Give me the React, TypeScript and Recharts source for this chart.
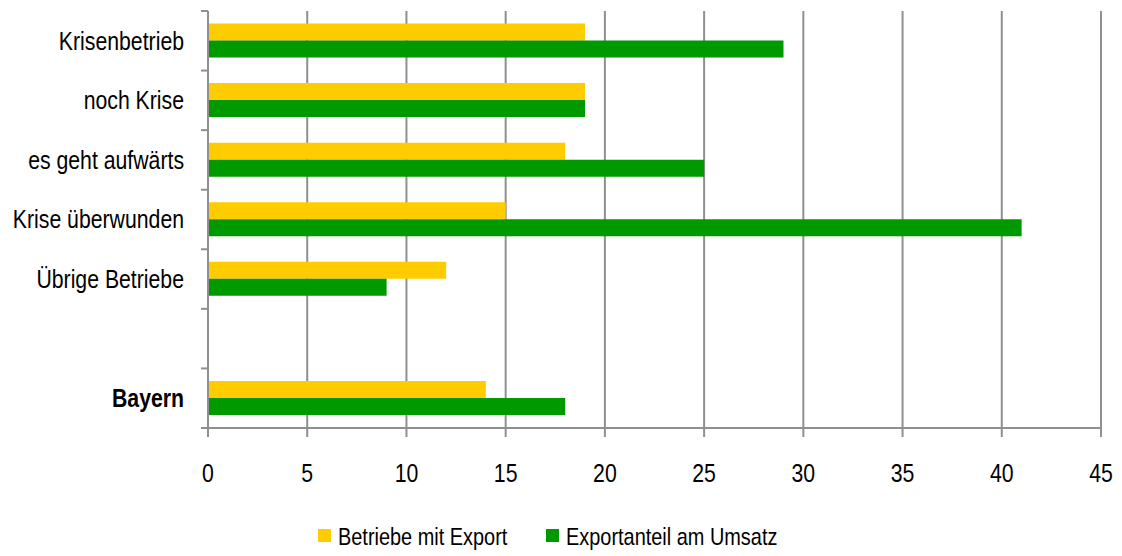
import React from "react";
import { BarChart, Bar, XAxis, YAxis, CartesianGrid, Legend } from "recharts";

const categories = [
  "Krisenbetrieb",
  "noch Krise",
  "es geht aufwärts",
  "Krise überwunden",
  "Übrige Betriebe",
  "",
  "Bayern"
];
const betriebeMitExport = [19, 19, 18, 15, 12, null, 14];
const exportanteilAmUmsatz = [29, 19, 25, 41, 9, null, 18];
const xTicks = [0, 5, 10, 15, 20, 25, 30, 35, 40, 45];

const data = categories.map((name, i) => ({
  name,
  export: betriebeMitExport[i],
  anteil: exportanteilAmUmsatz[i]
}));

const FONT = "'Liberation Sans', Arial, sans-serif";
const GRID = "#8f8f8f";
// source font is a condensed Arial, squeeze the regular one
const SQUEEZE = 0.85;

const CategoryTick = (props: any) => {
  const { x, y, payload, index } = props;
  const off = payload.offset || 0;
  const axisX = x + 7 + 17;
  return (
    <g>
      <line x1={axisX - 7} x2={axisX} y1={y - off} y2={y - off} stroke={GRID} strokeWidth={2} />
      {index === categories.length - 1 && (
        <line x1={axisX - 7} x2={axisX} y1={y + off} y2={y + off} stroke={GRID} strokeWidth={2} />
      )}
      <text
        transform={`translate(${x},${y}) scale(${SQUEEZE},1)`}
        dy="0.355em"
        textAnchor="end"
        fill="#000"
        fontFamily={FONT}
        fontSize={25}
        fontWeight={payload.value === "Bayern" ? "bold" : "normal"}
      >
        {payload.value}
      </text>
    </g>
  );
};

const NumberTick = (props: any) => {
  const { x, y, payload } = props;
  return (
    <text
      transform={`translate(${x},${y}) scale(${SQUEEZE},1)`}
      dy="0.71em"
      textAnchor="middle"
      fill="#000"
      fontFamily={FONT}
      fontSize={25}
    >
      {payload.value}
    </text>
  );
};

const LegendContent = (props: any) => {
  const { payload } = props;
  return (
    <svg width={480} height={30} style={{ display: "block" }}>
      {payload.map((p: any, i: number) => (
        <g key={p.value} transform={`translate(${i * 228},0)`}>
          <rect x={0} y={8} width={13} height={13} fill={p.color} />
          <text
            transform={`translate(20,15) scale(0.83,1)`}
            dy="0.355em"
            fill="#000"
            fontFamily={FONT}
            fontSize={24}
          >
            {p.value}
          </text>
        </g>
      ))}
    </svg>
  );
};

export default function App() {
  return (
    <div style={{ position: "absolute", left: 0, top: 0, background: "#fff" }}>
      <BarChart
        width={1122}
        height={556}
        data={data}
        layout="vertical"
        margin={{ top: 11, right: 21, left: 0, bottom: 0 }}
        barCategoryGap="21%"
        barGap={0}
      >
        <CartesianGrid horizontal={false} stroke={GRID} strokeWidth={2} />
        <XAxis
          type="number"
          domain={[0, 45]}
          ticks={xTicks}
          height={128}
          tickSize={9}
          tickMargin={27}
          stroke={GRID}
          strokeWidth={2}
          tick={<NumberTick />}
        />
        <YAxis
          type="category"
          dataKey="name"
          width={208}
          tickLine={false}
          tickSize={7}
          tickMargin={17}
          stroke={GRID}
          strokeWidth={2}
          interval={0}
          tick={<CategoryTick />}
        />
        <Legend
          verticalAlign="middle"
          align="center"
          wrapperStyle={{ top: 521, left: 318, width: "auto" }}
          content={<LegendContent />}
        />
        <Bar dataKey="export" name="Betriebe mit Export" fill="#FFCC00" isAnimationActive={false} />
        <Bar dataKey="anteil" name="Exportanteil am Umsatz" fill="#009900" isAnimationActive={false} />
      </BarChart>
    </div>
  );
}
